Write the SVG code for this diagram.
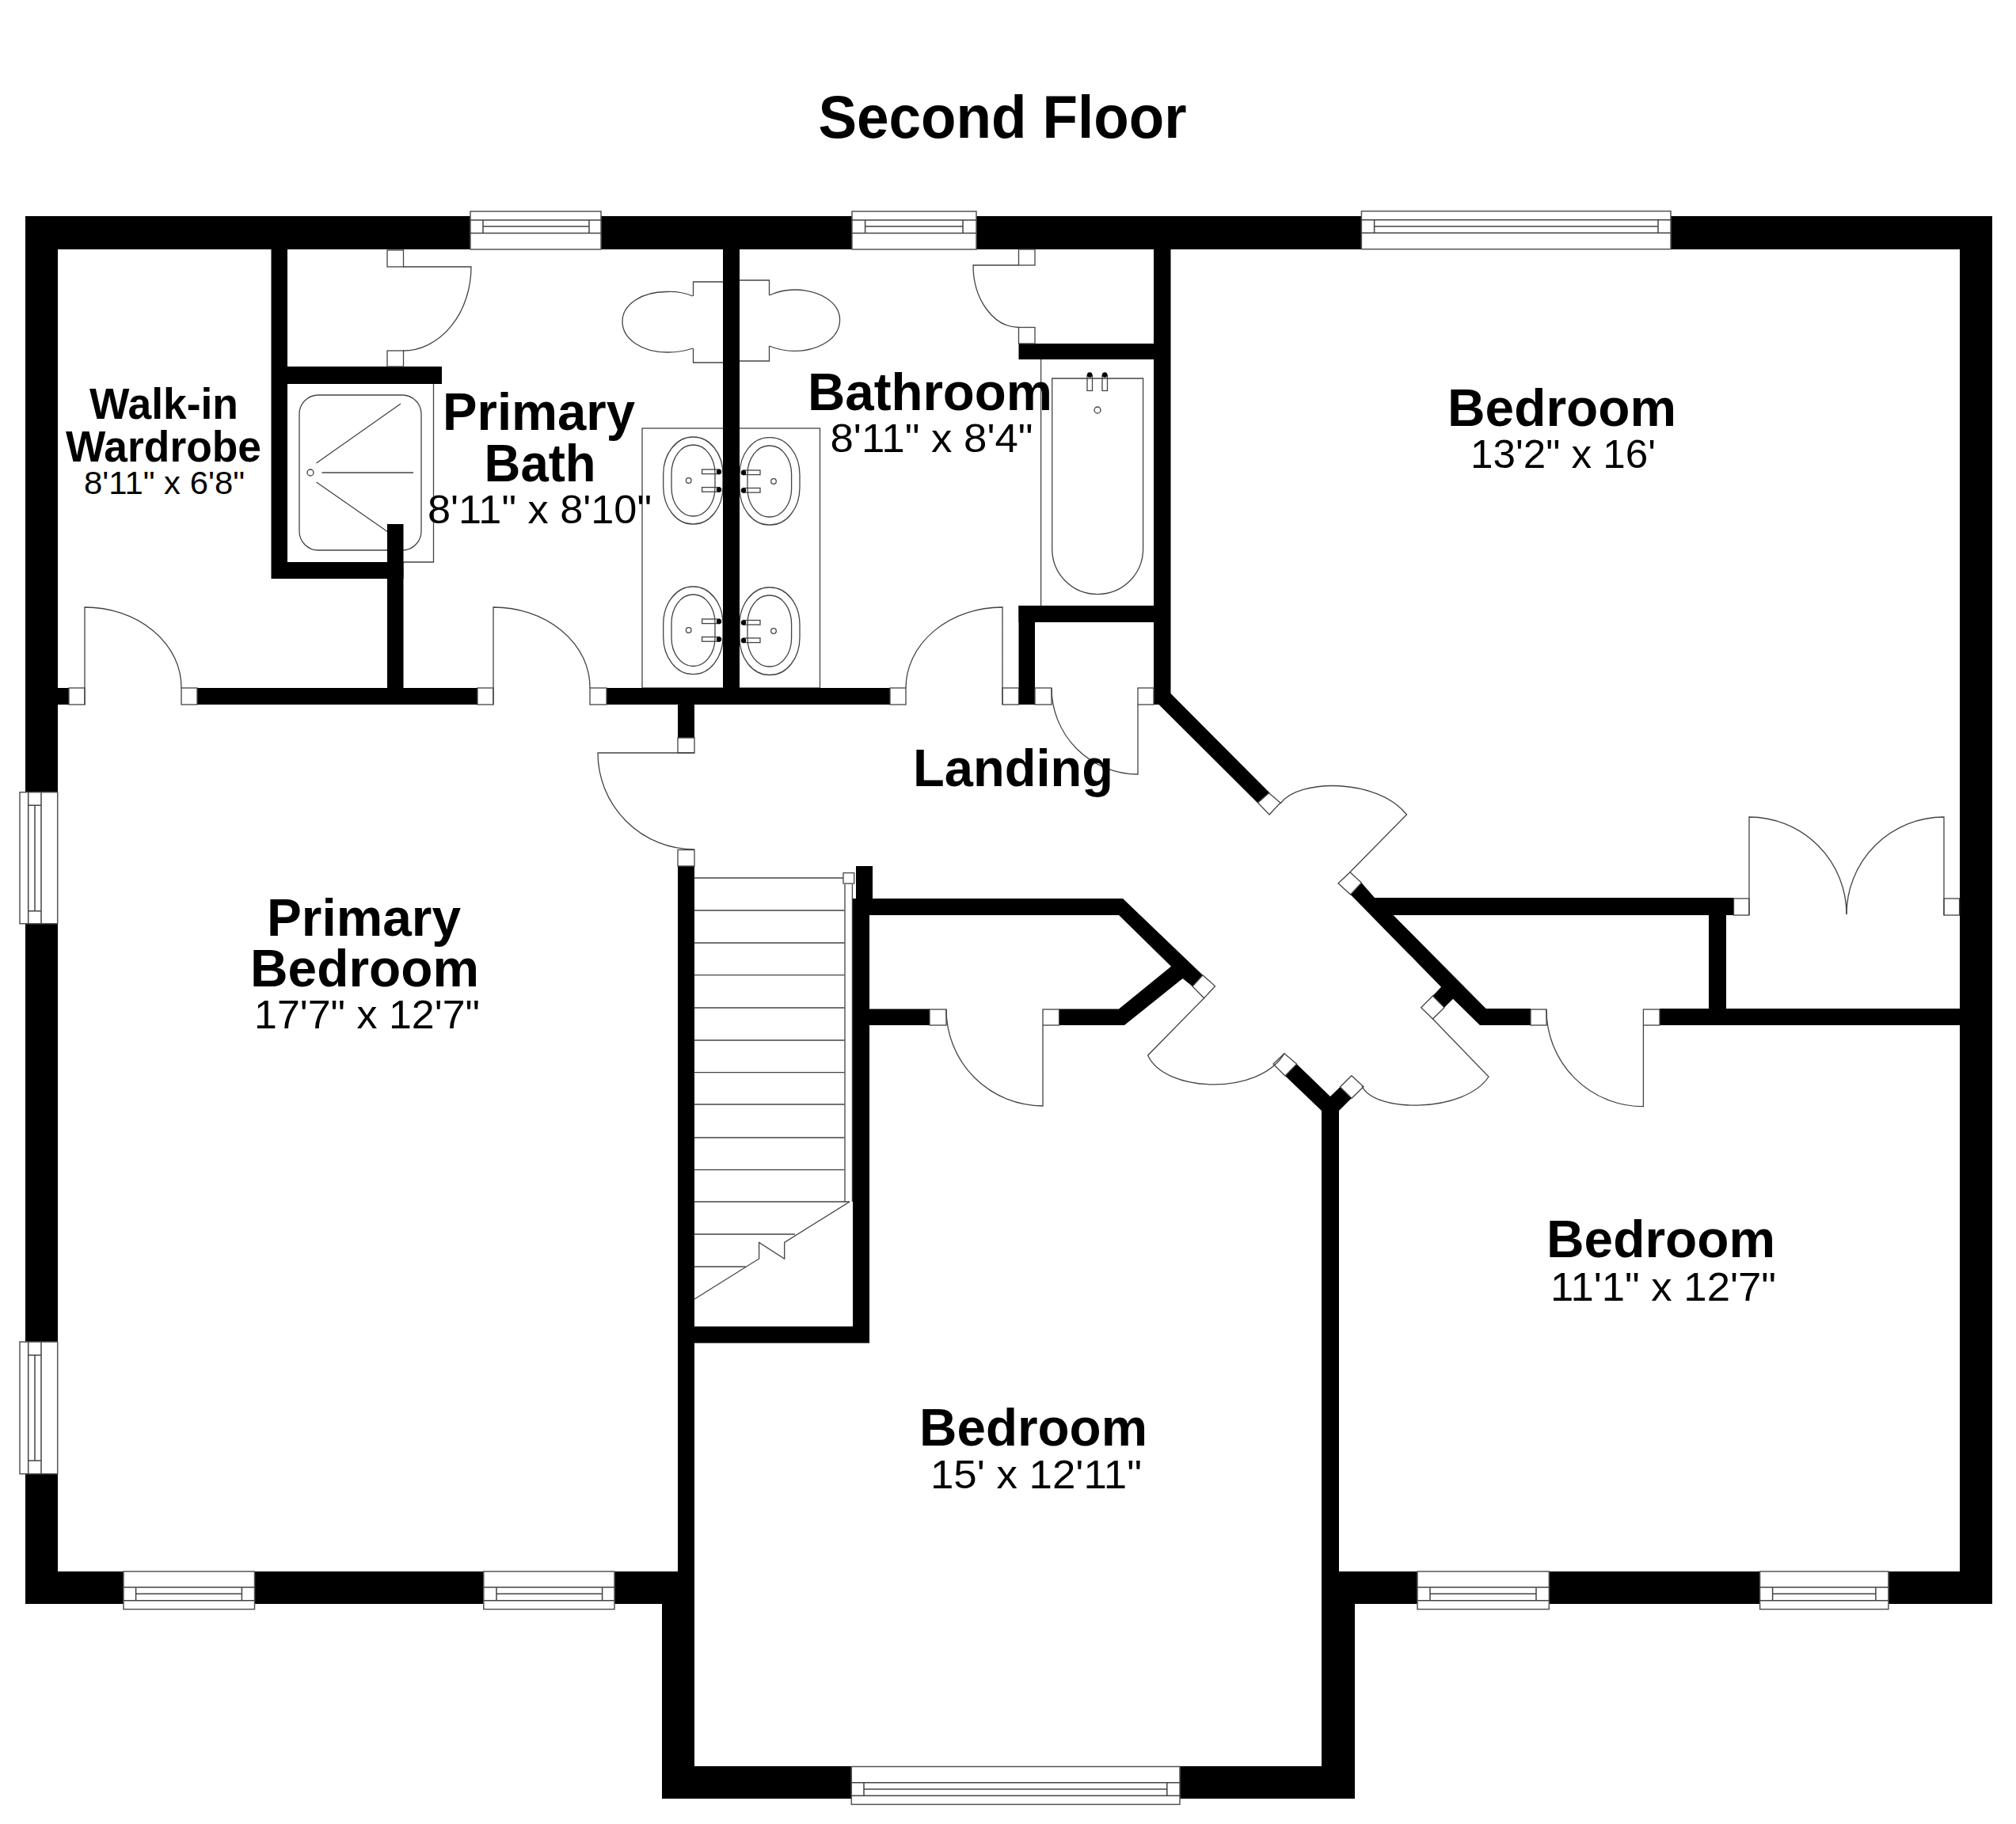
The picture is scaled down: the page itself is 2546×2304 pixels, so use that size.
<svg xmlns="http://www.w3.org/2000/svg" width="2546" height="2304" viewBox="0 0 2546 2304">
<style>
.wall{fill:#000}
.l{fill:#fff;stroke:#444;stroke-width:1.3}
.n{fill:none;stroke:#444;stroke-width:1.3}
.w{fill:#fff;stroke:#555;stroke-width:1.5}
.wn{fill:none;stroke:#444;stroke-width:1.5}
.dot{fill:#000}
text{fill:#000;text-anchor:start}
.b{font-family:"Liberation Sans",Arial,sans-serif;font-weight:700}
.r{font-family:"Liberation Sans",Arial,sans-serif;font-weight:400}
</style>
<rect width="2546" height="2304" fill="#fff"/>
<g id="fixtures">
<path class="n" d="M547.5,485V710H509"/>
<rect class="n" x="378" y="499" width="154" height="196" rx="24"/>
<path class="n" d="M399.5,585L506,510M406.5,597H522M399.5,609L490,672"/>
<circle class="n" cx="392" cy="597" r="4"/>
<rect class="n" x="811" y="541" width="224.500" height="328"/>
<path class="n" d="M913,356H875.500V374M875.500,440V458H913"/>
<path class="n" d="M875,374Q860,368 843,368.500C810,368 786,385 786,406C786,428 810,445 843,445Q860,445 875,440"/>
<path class="n" d="M934,354H971.500V373M971.500,437V456H934"/>
<path class="n" d="M971.500,373Q987,366 1003,366C1035,366 1060.600,382 1060.600,404C1060.600,427 1035,443.400 1003,443.400Q987,443.400 971.500,437"/>
<rect class="n" x="837.700" y="552" width="75.300" height="110" rx="37" ry="47"/>
<rect class="n" x="848" y="562" width="55" height="90" rx="27" ry="36"/>
<rect class="n" x="934" y="552.700" width="76" height="110.300" rx="37" ry="47"/>
<rect class="n" x="944" y="563" width="55.600" height="90" rx="27" ry="36"/>
<rect class="n" x="837.700" y="741" width="75.300" height="110.600" rx="37" ry="47"/>
<rect class="n" x="848" y="751" width="55" height="90.500" rx="27" ry="36"/>
<rect class="n" x="934" y="742" width="76" height="110.500" rx="37" ry="47"/>
<rect class="n" x="944" y="752" width="55.600" height="90" rx="27" ry="36"/>
<rect class="n" x="886.600" y="593" width="21.900" height="5.600"/><rect class="n" x="886.600" y="615.600" width="21.900" height="5.600"/>
<rect class="n" x="939" y="594" width="21" height="5.600"/><rect class="n" x="939" y="616.500" width="21" height="5.600"/>
<rect class="n" x="886.600" y="782" width="21.900" height="5.600"/><rect class="n" x="886.600" y="804.600" width="21.900" height="5.600"/>
<rect class="n" x="939" y="783.500" width="21" height="5.600"/><rect class="n" x="939" y="806" width="21" height="5.600"/>
<circle class="dot" cx="908" cy="596" r="3.200"/><circle class="dot" cx="908" cy="618.500" r="3.200"/>
<circle class="dot" cx="939" cy="597" r="3.200"/><circle class="dot" cx="939" cy="619.500" r="3.200"/>
<circle class="dot" cx="908" cy="785" r="3.200"/><circle class="dot" cx="908" cy="807.500" r="3.200"/>
<circle class="dot" cx="939" cy="786.500" r="3.200"/><circle class="dot" cx="939" cy="809" r="3.200"/>
<circle class="n" cx="869.700" cy="607" r="3.300"/><circle class="n" cx="977" cy="608" r="3.300"/>
<circle class="n" cx="869.700" cy="796" r="3.300"/><circle class="n" cx="977" cy="797" r="3.300"/>
<path class="n" d="M1314.600,454V765"/>
<path class="n" d="M1328.700,478H1443.600V693C1443.600,725 1418,750.600 1386,750.600C1354,750.600 1328.700,725 1328.700,693Z"/>
<rect class="n" x="1373" y="474" width="6.500" height="19.500"/><rect class="n" x="1392" y="474" width="6.500" height="19.500"/>
<circle class="dot" cx="1376.200" cy="473.500" r="3.200"/><circle class="dot" cx="1395.200" cy="473.500" r="3.200"/>
<circle class="n" cx="1386" cy="518" r="4"/>
</g>
<g id="stairs">
<path class="n" d="M877,1109H1066.600M877,1150H1066.600M877,1191H1066.600M877,1231.600H1066.600M877,1273H1066.600M877,1314H1066.600M877,1354.600H1066.600M877,1395H1066.600M877,1437H1066.600M877,1477.600H1066.600M877,1518H1073M877,1559H1004M877,1600H941.600"/>
<path class="n" d="M1067,1117V1518M1076.400,1117V1518"/>
<path class="n" d="M877,1641L958.600,1590V1569.400L990.700,1590V1569.400L1073,1518"/>
<rect class="l" x="1065" y="1102.600" width="13.700" height="13.400"/>
</g>
<g id="walls">
<path class="wall" d="M32,273H2516V2026H1711V2272H836V2026H32ZM73,315V1985H856V1094H877V2231H1669V1985H2475V315Z"/>
<rect class="wall" x="342.500" y="315" width="20.500" height="416"/>
<rect class="wall" x="363" y="463" width="195" height="22"/>
<rect class="wall" x="363" y="710" width="146.500" height="21"/>
<rect class="wall" x="489" y="662" width="20.500" height="207"/>
<rect class="wall" x="73" y="869" width="14" height="21"/>
<rect class="wall" x="249" y="869" width="354" height="21"/>
<rect class="wall" x="766" y="869" width="358" height="21"/>
<rect class="wall" x="913" y="315" width="21" height="554"/>
<rect class="wall" x="856" y="890" width="21" height="42"/>
<rect class="wall" x="1286.500" y="765" width="20.500" height="125"/>
<rect class="wall" x="1286.500" y="765" width="171" height="21"/>
<rect class="wall" x="1286.500" y="434" width="171" height="20"/>
<polygon class="wall" points="1457,315 1478.500,315 1478.500,876 1604,1002 1588,1014 1463.500,890 1457,890"/>
<polygon class="wall" points="1081,1094 1102,1094 1102,1135 1418,1135 1519,1231.700 1506,1246 1493.600,1236 1420,1295 1337.600,1295 1337.600,1274.500 1413,1274.500 1479,1220.700 1413,1156 1098,1156 1098,1274.500 1174,1274.500 1174,1295 1098,1295 1098,1696.500 877,1696.500 877,1675.500 1077,1675.500 1077,1135 1081,1135"/>
<polygon class="wall" points="1719.400,1115 1736,1134 2189.500,1134 2189.500,1156 1759.600,1156 1876.600,1274 1933,1274 1933,1295 1869,1295 1835,1261.700 1824,1272.700 1809.400,1258 1820,1246.700 1705.600,1130"/>
<rect class="wall" x="2158" y="1156" width="22" height="118"/>
<rect class="wall" x="2096" y="1274" width="379" height="21"/>
<polygon class="wall" points="1637.600,1344 1680,1385 1692.400,1373 1707,1387 1691,1403 1691,1985 1669,1985 1669,1403 1623,1359"/>
</g>
<g id="jambs">
<rect class="l" x="489" y="316" width="20.500" height="21"/>
<rect class="l" x="489" y="443" width="20.500" height="20"/>
<rect class="l" x="87" y="869" width="20" height="21"/>
<rect class="l" x="229" y="869" width="20" height="21"/>
<rect class="l" x="603" y="869" width="20" height="21"/>
<rect class="l" x="745" y="869" width="21" height="21"/>
<rect class="l" x="1124" y="869" width="20" height="21"/>
<rect class="l" x="1266" y="869" width="20.500" height="21"/>
<rect class="l" x="1307" y="869" width="21" height="21"/>
<rect class="l" x="1437" y="869" width="20" height="21"/>
<rect class="l" x="1286.500" y="315" width="20.500" height="20"/>
<rect class="l" x="1286.500" y="413.500" width="20.500" height="20.500"/>
<rect class="l" x="856" y="932" width="21" height="19"/>
<rect class="l" x="856" y="1073.500" width="21" height="20.500"/>
<rect class="l" x="1174" y="1275" width="21" height="20"/>
<rect class="l" x="1317" y="1275" width="20.600" height="20"/>
<rect class="l" x="1933" y="1275" width="20" height="20"/>
<rect class="l" x="2075.400" y="1275" width="20.600" height="20"/>
<rect class="l" x="2189.500" y="1135" width="19.500" height="21"/>
<rect class="l" x="2455" y="1135" width="19.600" height="21"/>
<polygon class="l" points="1602.500,1001.700 1617,1014 1603,1029 1588.600,1014"/>
<polygon class="l" points="1705,1101.700 1719.400,1115 1705.600,1130 1690,1115.700"/>
<polygon class="l" points="1519,1231.700 1534.500,1245.700 1520.600,1260.700 1506,1246"/>
<polygon class="l" points="1622,1330.700 1637.600,1344 1623,1359 1608,1344"/>
<polygon class="l" points="1707,1358.700 1722,1372.700 1707,1387.300 1692.400,1373"/>
<polygon class="l" points="1809.400,1258 1824,1272.700 1809.400,1287 1794.700,1272.700"/>
</g>
<g id="doors">
<path class="n" d="M107,890V767A122,101 0 0 1 229,869"/>
<path class="n" d="M623,890V767A122,101 0 0 1 745,869"/>
<path class="n" d="M1266,890V767A122,102 0 0 0 1144,869"/>
<path class="n" d="M509,337H595A86,106 0 0 1 509,443"/>
<path class="n" d="M1286.500,335H1229A57.500,78.500 0 0 0 1286.500,413.500"/>
<path class="n" d="M1437,890V978A109,109 0 0 1 1328,869"/>
<path class="n" d="M877,951H755A122,122 0 0 0 877,1073"/>
<path class="n" d="M1317,1295V1397A122,122 0 0 1 1195,1275"/>
<path class="n" d="M2075.400,1295V1397.700A122,122 0 0 1 1953,1275"/>
<path class="n" d="M2209,1156V1032A123,123 0 0 1 2332,1155"/>
<path class="n" d="M2455,1156V1032A123,123 0 0 0 2332,1155"/>
<path class="n" d="M1704.800,1101.700L1776.500,1029C1740,983 1640,983 1617,1015"/>
<path class="n" d="M1520.600,1260.700L1449.700,1333C1470,1380 1590,1385 1622,1330.700"/>
<path class="n" d="M1809.400,1287L1880,1360C1850,1406 1735,1406 1720,1371.700"/>
</g>
<g id="windows">
<g><rect class="w" x="594" y="267" width="165" height="48"/><path class="wn" d="M594,278H759M594,294.500H759M610,278V294.500M744,278V294.500M610,286H744"/></g>
<g><rect class="w" x="1076" y="267" width="157" height="48"/><path class="wn" d="M1076,278H1233M1076,294.500H1233M1092.600,278V294.500M1216,278V294.500M1092.600,286H1216"/></g>
<g><rect class="w" x="1719.400" y="266.700" width="390.600" height="48"/><path class="wn" d="M1719.400,277.700H2110M1719.400,294.300H2110M1735.600,277.700V294.300M2094,277.700V294.300M1735.600,286H2094"/></g>
<g><rect class="w" x="25" y="1000.700" width="47.700" height="166"/><path class="wn" d="M35.700,1000.700V1166.700M52,1000.700V1166.700M35.700,1017.300H52M35.700,1150.700H52M44,1017.300V1150.700"/></g>
<g><rect class="w" x="25" y="1695" width="47.700" height="166.700"/><path class="wn" d="M35.700,1695V1861.700M52,1695V1861.700M35.700,1711.700H52M35.700,1845H52M44,1711.700V1845"/></g>
<g><rect class="w" x="156" y="1985" width="165.500" height="47.700"/><path class="wn" d="M156,2005H321.500M156,2021.700H321.500M171.600,2005V2021.700M305.400,2005V2021.700M171.600,2013.300H305.400"/></g>
<g><rect class="w" x="610.800" y="1985" width="165.200" height="47.700"/><path class="wn" d="M610.800,2005H776M610.800,2021.700H776M627,2005V2021.700M760.600,2005V2021.700M627,2013.300H760.600"/></g>
<g><rect class="w" x="1790" y="1985" width="166.300" height="47.700"/><path class="wn" d="M1790,2005H1956.300M1790,2021.700H1956.300M1806,2005V2021.700M1940,2005V2021.700M1806,2013.300H1940"/></g>
<g><rect class="w" x="2222.600" y="1985" width="162.300" height="47.700"/><path class="wn" d="M2222.600,2005H2384.900M2222.600,2021.700H2384.900M2238.600,2005V2021.700M2368.900,2005V2021.700M2238.600,2013.300H2368.900"/></g>
<g><rect class="w" x="1075.300" y="2231.500" width="414.700" height="47.800"/><path class="wn" d="M1075.300,2251.700H1490M1075.300,2268.300H1490M1091,2251.700V2268.300M1473.800,2251.700V2268.300M1091,2260H1473.800"/></g>
</g>
<g id="labels">
<text class="b" x="1033.500" y="174" font-size="76" textLength="465" lengthAdjust="spacingAndGlyphs">Second Floor</text>
<text class="b" x="113" y="529" font-size="56" textLength="188" lengthAdjust="spacingAndGlyphs">Walk-in</text>
<text class="b" x="83" y="583" font-size="56" textLength="247" lengthAdjust="spacingAndGlyphs">Wardrobe</text>
<text class="r" x="106" y="624" font-size="40" textLength="203" lengthAdjust="spacingAndGlyphs">8'11" x 6'8"</text>
<text class="b" x="559" y="542.700" font-size="67" textLength="243" lengthAdjust="spacingAndGlyphs">Primary</text>
<text class="b" x="611.600" y="608" font-size="67" textLength="141" lengthAdjust="spacingAndGlyphs">Bath</text>
<text class="r" x="540" y="660.500" font-size="50" textLength="283" lengthAdjust="spacingAndGlyphs">8'11" x 8'10"</text>
<text class="b" x="1020" y="517.800" font-size="67" textLength="309" lengthAdjust="spacingAndGlyphs">Bathroom</text>
<text class="r" x="1048.500" y="570.600" font-size="50" textLength="256" lengthAdjust="spacingAndGlyphs">8'11" x 8'4"</text>
<text class="b" x="1153" y="993.400" font-size="67" textLength="253" lengthAdjust="spacingAndGlyphs">Landing</text>
<text class="b" x="1828" y="538.300" font-size="67" textLength="289" lengthAdjust="spacingAndGlyphs">Bedroom</text>
<text class="r" x="1857" y="590.700" font-size="50" textLength="234" lengthAdjust="spacingAndGlyphs">13'2" x 16'</text>
<text class="b" x="337" y="1182" font-size="67" textLength="245" lengthAdjust="spacingAndGlyphs">Primary</text>
<text class="b" x="316" y="1246" font-size="67" textLength="289" lengthAdjust="spacingAndGlyphs">Bedroom</text>
<text class="r" x="321" y="1299" font-size="50" textLength="285" lengthAdjust="spacingAndGlyphs">17'7" x 12'7"</text>
<text class="b" x="1953" y="1588" font-size="67" textLength="289" lengthAdjust="spacingAndGlyphs">Bedroom</text>
<text class="r" x="1958" y="1643" font-size="50" textLength="285" lengthAdjust="spacingAndGlyphs">11'1" x 12'7"</text>
<text class="b" x="1161" y="1826" font-size="67" textLength="288" lengthAdjust="spacingAndGlyphs">Bedroom</text>
<text class="r" x="1175" y="1880" font-size="50" textLength="267" lengthAdjust="spacingAndGlyphs">15' x 12'11"</text>
</g>
</svg>
